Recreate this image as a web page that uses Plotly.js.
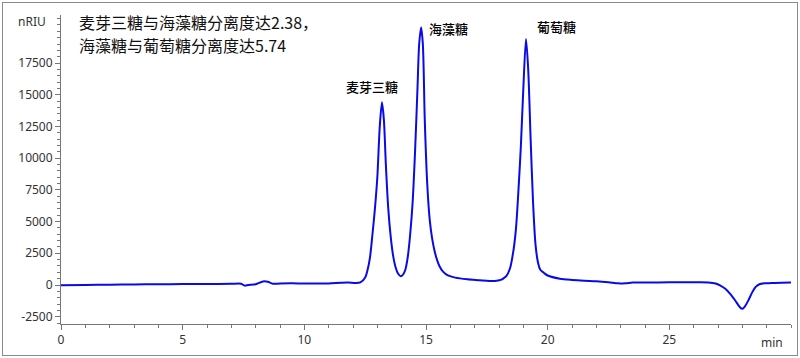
<!DOCTYPE html>
<html>
<head>
<meta charset="utf-8">
<script src="https://cdn.plot.ly/plotly-3.0.1.min.js"></script>
<style>
html,body{margin:0;padding:0;background:#fff;}
#wrap{position:relative;width:800px;height:358px;}
#frame{position:absolute;left:2px;top:2px;width:794px;height:352px;border:1px solid #8a8a8a;pointer-events:none;z-index:10;}
#chart{position:absolute;left:0;top:0;width:800px;height:358px;}
</style>
</head>
<body>
<div id="wrap"><div id="chart"></div><div id="frame"></div></div>
<script>
// retention time (min)
const timeMin = [0,1,2,3,4,5,6,7,7.4,7.55,7.7,8.0,8.3,8.5,8.7,9.0,9.5,10,10.5,11,11.5,11.8,12.1,12.3,12.5,12.6,12.7,12.8,12.9,13.0,13.1,13.19,13.27,13.35,13.45,13.55,13.65,13.75,13.85,13.95,14.05,14.15,14.25,14.35,14.45,14.55,14.65,14.72,14.8,14.87,14.95,15.05,15.15,15.25,15.35,15.45,15.55,15.7,15.9,16.2,16.7,17.2,17.6,17.9,18.1,18.2,18.3,18.45,18.6,18.7,18.8,18.9,19.0,19.11,19.2,19.3,19.4,19.5,19.6,19.7,19.85,20.0,20.5,21.0,21.5,22.0,22.5,22.9,23.2,23.5,24,25,26,26.6,26.9,27.1,27.3,27.5,27.7,27.9,28.0,28.1,28.25,28.4,28.55,28.7,28.9,29.2,29.6,30];
// signal (nRIU)
const signal = [-20,0,20,40,60,70,80,90,100,-50,0,60,280,250,100,120,130,110,110,120,180,200,160,200,600,1200,2200,4000,6000,8500,12500,14400,13000,9500,6000,3800,2300,1400,900,700,800,1200,2200,4000,6500,10500,15500,19000,20300,19000,13000,8000,5200,3700,2700,2000,1500,1050,750,580,450,380,320,330,420,550,700,1300,2800,4500,7500,11000,15500,19400,17000,11500,6500,3200,1800,1200,950,750,500,400,340,300,220,130,140,190,200,210,210,200,120,-50,-300,-700,-1200,-1750,-1880,-1700,-1200,-600,-150,60,130,150,180,190];
// y tick values
const yTicks = [-2500,0,2500,5000,7500,10000,12500,15000,17500];
const xTicks = [0,5,10,15,20,25];
// peak labels
const peakNames = ['麦芽三糖','海藻糖','葡萄糖'];
const peakTimes = [13.19,14.8,19.11];
const peakHeights = [14400,20300,19400];
const noteLines = ['麦芽三糖与海藻糖分离度达2.38，','海藻糖与葡萄糖分离度达5.74'];

const trace = {
  x: timeMin, y: signal, type: 'scatter', mode: 'lines',
  line: {color: '#0a0ae6', width: 2, shape: 'spline', smoothing: 0.8},
  hoverinfo: 'skip'
};

const tickFont = {family: 'Noto Sans, DejaVu Sans, sans-serif', size: 12, color: '#333'};
const cjk = 'Noto Sans CJK SC, Noto Sans, sans-serif';

const annotations = [];
const peakOffsets = [{dx: -10, dy: 16}, {dx: 27, dy: -1}, {dx: 30, dy: 12}];
peakNames.forEach((n, i) => {
  annotations.push({
    x: peakTimes[i], y: peakHeights[i], xref: 'x', yref: 'y', text: n, showarrow: false,
    xanchor: 'center', yanchor: 'middle', xshift: peakOffsets[i].dx, yshift: peakOffsets[i].dy,
    font: {family: cjk, size: 13, color: '#000', weight: 500}
  });
});
noteLines.forEach((t, i) => {
  annotations.push({
    x: 0, y: 1, xref: 'paper', yref: 'paper', xanchor: 'left', yanchor: 'middle',
    xshift: 16, yshift: -7 - 23 * i, showarrow: false, align: 'left',
    text: t,
    font: {family: cjk, size: 16, color: '#111'}
  });
});
annotations.push({
  x: 0, y: 20800, xref: 'paper', yref: 'y', xanchor: 'right', yanchor: 'middle',
  xshift: -13, showarrow: false, text: 'nRIU', font: tickFont
});
annotations.push({
  x: 29.2, y: 0, xref: 'x', yref: 'paper', xanchor: 'center', yanchor: 'top',
  yshift: -8, showarrow: false, text: 'min', font: tickFont
});

const layout = {
  width: 800, height: 358,
  margin: {l: 61, r: 9, t: 15, b: 34},
  paper_bgcolor: '#fff', plot_bgcolor: '#fff',
  showlegend: false,
  xaxis: {
    range: [0, 30], tickvals: xTicks, ticktext: xTicks.map(String),
    showgrid: false, zeroline: false, showline: true, linecolor: '#777', linewidth: 1,
    ticks: 'outside', ticklen: 5, tickcolor: '#777', tickfont: tickFont,
    minor: {dtick: 1, ticks: 'outside', ticklen: 3, tickcolor: '#777', showgrid: false}
  },
  yaxis: {
    range: [-3075, 21287], tickvals: yTicks, ticktext: yTicks.map(String),
    showgrid: false, zeroline: false, showline: true, linecolor: '#777', linewidth: 1,
    ticks: 'outside', ticklen: 5, tickcolor: '#777', tickfont: tickFont,
    minor: {dtick: 500, tick0: 0, ticks: 'outside', ticklen: 3, tickcolor: '#777', showgrid: false}
  },
  annotations: annotations
};

Plotly.newPlot('chart', [trace], layout, {displayModeBar: false, staticPlot: true});
</script>
</body>
</html>
